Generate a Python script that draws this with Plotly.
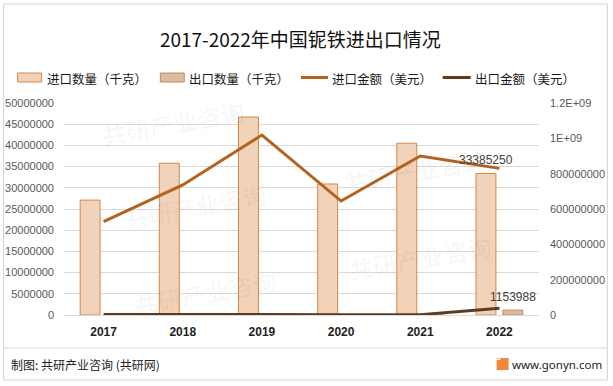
import plotly.graph_objects as go

years = ["2017", "2018", "2019", "2020", "2021", "2022"]
import_qty = [27100000, 35800000, 46700000, 30900000, 40500000, 33385250]
export_qty = [0, 0, 0, 0, 0, 1153988]
import_amt = [528000000, 736000000, 1019000000, 645000000, 900000000, 830000000]
export_amt = [3000000, 4000000, 3000000, 1000000, 2000000, 38000000]

left_ticks = [0, 5000000, 10000000, 15000000, 20000000, 25000000, 30000000, 35000000, 40000000, 45000000, 50000000]
left_labels = [str(v) for v in left_ticks]
right_ticks = [0, 200000000, 400000000, 600000000, 800000000, 1000000000, 1200000000]
right_labels = ["0", "200000000", "400000000", "600000000", "800000000", "1E+09", "1.2E+09"]

title = "2017-2022年中国铌铁进出口情况"
names = ["进口数量（千克）", "出口数量（千克）", "进口金额（美元）", "出口金额（美元）"]

CJK = "Noto Sans CJK SC"
NUM = "Liberation Sans, Noto Sans CJK SC"

BAR1 = dict(color="#F2D2B8", line=dict(color="#D4894A", width=1))
BAR2 = dict(color="#DDBBA2", line=dict(color="#C08A60", width=1))
LINE1 = "#B3631F"
LINE2 = "#5C3B20"

fig = go.Figure()
fig.add_trace(go.Bar(x=years, y=import_qty, name=names[0], marker=BAR1))
fig.add_trace(go.Bar(x=years, y=export_qty, name=names[1], marker=BAR2))
fig.add_trace(go.Scatter(
    x=years, y=import_amt, name=names[2], yaxis="y2", mode="lines",
    line=dict(color=LINE1, width=3),
))
fig.add_trace(go.Scatter(
    x=years, y=export_amt, name=names[3], yaxis="y2", mode="lines",
    line=dict(color=LINE2, width=3),
))

L, R, T, B = 63.5, 73.5, 103, 71
W, H = 613, 386
PW, PH = W - L - R, H - T - B

def fx(p):
    return (p - L) / PW

def fy(p):
    return (H - B - p) / PH

fig.update_layout(
    width=W, height=H,
    margin=dict(l=L, r=R, t=T, b=B, autoexpand=False),
    paper_bgcolor="white", plot_bgcolor="white",
    barmode="group", bargap=0.32, bargroupgap=0.26,
    title=dict(text=title, x=0.49, xanchor="center", y=1 - 40 / H, yanchor="middle",
               font=dict(family=CJK, size=19, color="#111111")),
    showlegend=False,
    xaxis=dict(type="category", showgrid=False, showline=False, ticks="",
               tickfont=dict(family=NUM, size=12, color="#222222", weight="bold"),
               ticklabelstandoff=8),
    yaxis=dict(range=[0, 50000000], tickvals=left_ticks, ticktext=left_labels,
               showgrid=True, gridcolor="#D9D9D9", gridwidth=1,
               zeroline=True, zerolinecolor="#D9D9D9", zerolinewidth=1,
               showline=False, ticks="", ticklabelstandoff=9,
               tickfont=dict(family=NUM, size=11, color="#595959")),
    yaxis2=dict(range=[0, 1200000000], tickvals=right_ticks, ticktext=right_labels,
                overlaying="y", side="right", showgrid=False, zeroline=False,
                showline=False, ticks="", ticklabelstandoff=10,
                tickfont=dict(family=NUM, size=11, color="#595959")),
    font=dict(family=CJK),
)

# faint watermarks (paper-pixel placement)
for cx, cy in [(173, 122), (195, 205), (205, 292), (415, 170), (420, 257)]:
    fig.add_annotation(xref="paper", yref="paper", x=fx(cx), y=fy(cy),
                       xanchor="center", yanchor="middle",
                       text="<b>共研产业咨询</b>", showarrow=False, textangle=-10,
                       font=dict(family=CJK, size=24, color="rgba(0,0,0,0.03)"))

# data labels for 2022 bars (category index of the last year)
last = len(years) - 1
for vals, shift in ((import_qty, -13.5), (export_qty, 13.5)):
    fig.add_annotation(x=last, y=vals[last], xref="x", yref="y",
                       text=str(vals[last]), showarrow=False, xshift=shift,
                       yanchor="bottom", yshift=4,
                       font=dict(family=NUM, size=12, color="#404040"))

# manual legend (swatches + labels)
leg_y = 77.5
legend_items = [
    ("bar", BAR1, 17, 41, 44),
    ("bar", BAR2, 160, 184, 187),
    ("line", LINE1, 301, 328, 330),
    ("line", LINE2, 443, 471, 473),
]
for (kind, style, x0, x1, tx), label in zip(legend_items, names):
    if kind == "bar":
        fig.add_shape(type="rect", xref="paper", yref="paper",
                      x0=fx(x0), x1=fx(x1), y0=fy(leg_y + 4.5), y1=fy(leg_y - 4.5),
                      fillcolor=style["color"], line=dict(color=style["line"]["color"], width=1))
    else:
        fig.add_shape(type="line", xref="paper", yref="paper",
                      x0=fx(x0), x1=fx(x1), y0=fy(leg_y), y1=fy(leg_y),
                      line=dict(color=style, width=3))
    fig.add_annotation(xref="paper", yref="paper", x=fx(tx), y=fy(leg_y + 0.5),
                       xanchor="left", yanchor="middle", text=label, showarrow=False,
                       font=dict(family=CJK, size=12.5, color="#1a1a1a"))

# frame and footer
fig.add_shape(type="rect", xref="paper", yref="paper",
              x0=fx(3), x1=fx(608), y0=fy(380), y1=fy(4),
              line=dict(color="#D3D3D3", width=1), layer="below")
fig.add_shape(type="line", xref="paper", yref="paper",
              x0=fx(3), x1=fx(608), y0=fy(348), y1=fy(348),
              line=dict(color="#DADADA", width=1))
fig.add_shape(type="rect", xref="paper", yref="paper",
              x0=fx(497), x1=fx(509), y0=fy(370), y1=fy(358),
              fillcolor="#F0893A", line=dict(width=0))
fig.add_annotation(xref="paper", yref="paper", x=fx(503), y=fy(364),
                   text="G", showarrow=False,
                   font=dict(family="Liberation Sans", size=9, color="white", weight="bold"))
fig.add_annotation(xref="paper", yref="paper", x=fx(8), y=fy(364),
                   xanchor="left", yanchor="middle",
                   text="制图: 共研产业咨询 (共研网)", showarrow=False,
                   font=dict(family=CJK, size=12, color="#222222"))
fig.add_annotation(xref="paper", yref="paper", x=fx(605), y=fy(364),
                   xanchor="right", yanchor="middle",
                   text="www.gonyn.com", showarrow=False,
                   font=dict(family="Noto Sans", size=11.5, color="#222222"))

fig.write_html("out.html", config={"displayModeBar": False},
               post_script="document.body.style.margin='0';")
